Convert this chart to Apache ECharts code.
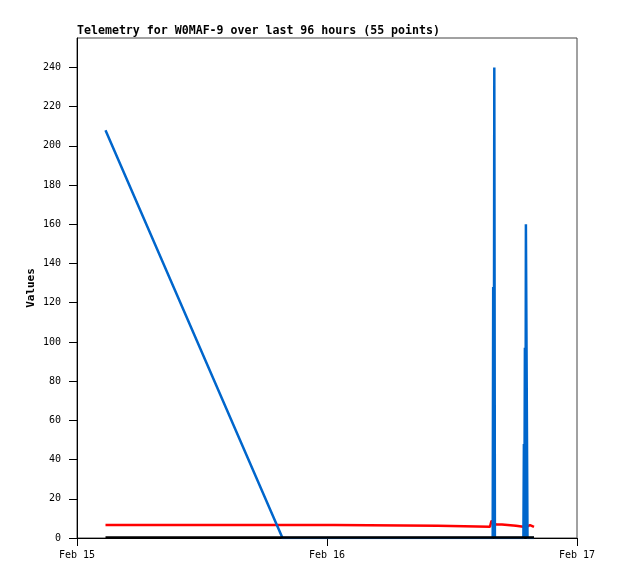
<!DOCTYPE html>
<html>
<head>
<meta charset="utf-8">
<script src="https://cdn.jsdelivr.net/npm/echarts@6/dist/echarts.min.js"></script>
<style>html,body{margin:0;padding:0;background:#fff;}#c{width:618px;height:579px;}</style>
</head>
<body>
<div id="c"></div>
<script>
// hours since Feb 15 00:00
var hours = [2.736, 19.728, 24.672, 24.768, 34.656, 34.752, 39.648, 39.792, 39.907, 39.955, 40.003, 40.061, 40.118, 40.224, 40.800, 40.848, 42.144, 42.192, 42.854, 42.902, 42.941, 42.998, 43.046, 43.094, 43.190, 43.248, 43.488, 43.536, 43.872];
var blueValues = [208, 0, 0, 0, 0, 0, 0, 0, 0, 128, 0, 240, 0, 0, 0, 0, 0, 0, 0, 48, 0, 97, 0, 160, 160, 0, 0, 0, 0];
var redValues = [6.6, 6.6, 6.6, 6.2, 6.2, 5.8, 5.8, 8.8, 8.6, 8.3, 8.0, 7.5, 7.1, 6.9, 6.9, 6.2, 6.2, 5.7, 5.7, 5.7, 5.7, 5.7, 5.7, 5.7, 5.8, 6.6, 6.6, 5.7, 5.7];
var blackValues = [0.3, 0.3, 0.3, 0.3, 0.3, 0.3, 0.3, 0.3, 0.3, 0.3, 0.3, 0.3, 0.3, 0.3, 0.3, 0.3, 0.3, 0.3, 0.3, 0.3, 0.3, 0.3, 0.3, 0.3, 0.3, 0.3, 0.3, 0.3, 0.3];
var xTickLabels = ['Feb 15', 'Feb 16', 'Feb 17'];
var titleText = 'Telemetry for W0MAF-9 over last 96 hours (55 points)';

function pairs(vals) { return hours.map(function (h, i) { return [h, vals[i]]; }); }

var chart = echarts.init(document.getElementById('c'), null, { renderer: 'canvas' });
var mono = 'DejaVu Sans Mono';
chart.setOption({
  animation: false,
  backgroundColor: '#fff',
  title: {
    text: titleText, left: 77, top: 25, padding: 0,
    textStyle: { fontFamily: mono, fontWeight: 'bold', fontSize: 11.6, lineHeight: 12, color: '#000' }
  },
  grid: { left: 77, right: 41, top: 38, bottom: 41, show: true, borderColor: '#444', borderWidth: 1, backgroundColor: 'transparent' },
  xAxis: {
    type: 'value', min: 0, max: 48, interval: 24,
    axisLine: { show: true, lineStyle: { color: '#000', width: 1 } },
    axisTick: { show: true, length: 8, lineStyle: { color: '#000' } },
    splitLine: { show: false },
    axisLabel: {
      margin: 12, fontFamily: mono, fontSize: 10, color: '#000',
      formatter: function (v) { return xTickLabels[Math.round(v / 24)]; }
    }
  },
  yAxis: {
    type: 'value', min: 0, max: 255, interval: 20,
    name: 'Values', nameLocation: 'middle', nameRotate: 90, nameGap: 40, nameMoveOverlap: false,
    nameTextStyle: { fontFamily: mono, fontWeight: 'bold', fontSize: 11, color: '#000' },
    axisLine: { show: true, lineStyle: { color: '#000', width: 1 } },
    axisTick: { show: true, length: 8, lineStyle: { color: '#000' } },
    splitLine: { show: false },
    axisLabel: { margin: 16, fontFamily: mono, fontSize: 10, color: '#000', showMaxLabel: false }
  },
  series: [
    { type: 'line', data: pairs(redValues), showSymbol: false, lineStyle: { color: '#ff0000', width: 2.5 }, z: 2 },
    { type: 'line', data: pairs(blueValues), showSymbol: false, lineStyle: { color: '#0066cc', width: 2.5 }, z: 3 },
    { type: 'line', data: pairs(blackValues), showSymbol: false, lineStyle: { color: '#000000', width: 2.5 }, z: 4 }
  ]
});
</script>
</body>
</html>
